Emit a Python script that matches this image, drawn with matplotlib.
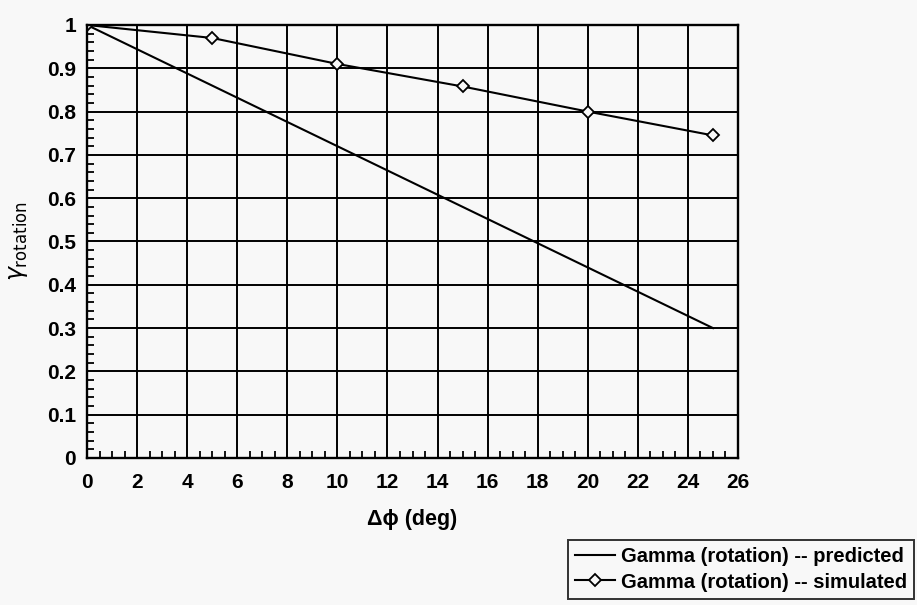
import numpy as np
import matplotlib
matplotlib.use("Agg")
import matplotlib.pyplot as plt
from matplotlib.ticker import MultipleLocator

plt.rcParams["font.family"] = ["Liberation Sans", "DejaVu Sans"]

# data
dphi_pred = [0, 5, 10, 15, 20, 25]
gamma_pred = [1.0, 0.86, 0.72, 0.58, 0.44, 0.30]
dphi_sim = [0, 5, 10, 15, 20, 25]
gamma_sim = [1.0, 0.97, 0.91, 0.858, 0.80, 0.745]

BG = "#f8f8f8"
fig = plt.figure(figsize=(9.17, 6.05), dpi=100, facecolor=BG)
ax = fig.add_axes([0.0949, 0.243, 0.7099, 0.7157], facecolor=BG)

ax.plot(dphi_pred, gamma_pred, "-", color="black", lw=1.5,
        label="Gamma (rotation) -- predicted")
ax.plot(dphi_sim, gamma_sim, "-", color="black", lw=1.5, marker="D", ms=6,
        mfc=BG, mec="black", mew=1.3, label="Gamma (rotation) -- simulated")

ax.set_xlim(0, 26)
ax.set_ylim(0, 1)
ax.xaxis.set_major_locator(MultipleLocator(2))
ax.xaxis.set_minor_locator(MultipleLocator(0.5))
ax.yaxis.set_minor_locator(MultipleLocator(0.02))
ax.set_yticks(np.arange(0, 1.01, 0.1))
ax.set_yticklabels(["0"] + [f"{v:.1f}" for v in np.arange(0.1, 0.95, 0.1)] + ["1"])

ax.grid(True, which="major", color="black", lw=1.4)
ax.tick_params(which="both", direction="in", color="black")
ax.tick_params(which="major", length=0)
ax.tick_params(axis="x", which="major", pad=11)
ax.tick_params(axis="y", which="major", pad=8)
ax.tick_params(which="minor", length=5, width=1.3)
for lab in ax.get_xticklabels() + ax.get_yticklabels():
    lab.set_fontweight("bold")
    lab.set_fontsize(15)
for sp in ax.spines.values():
    sp.set_linewidth(1.7)

ax.set_xlabel("Δϕ (deg)", fontsize=15.5, fontweight="bold", labelpad=12)
ax.set_ylabel(r"$\gamma_{\mathrm{rotation}}$", fontsize=17, labelpad=12)

leg = fig.legend(loc="lower right", bbox_to_anchor=(1.008, -0.006),
                 frameon=True, fancybox=False, edgecolor="black",
                 handlelength=2.0, handletextpad=0.3, borderpad=0.35,
                 labelspacing=0.3, prop={"weight": "bold", "size": 14.5})
leg.get_frame().set_linewidth(1.4)
leg.get_frame().set_facecolor(BG)

fig.savefig("out.png", dpi=100, facecolor=BG)
